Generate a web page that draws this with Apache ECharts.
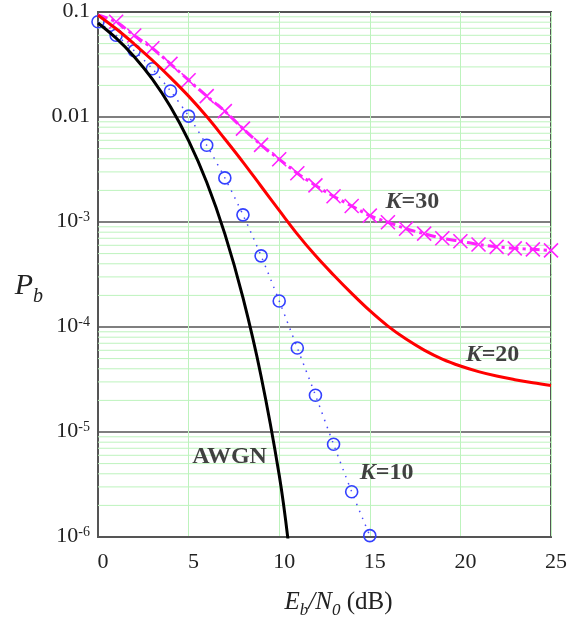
<!DOCTYPE html>
<html><head><meta charset="utf-8">
<script src="https://cdn.jsdelivr.net/npm/echarts@6/dist/echarts.min.js"></script>
<style>html,body{margin:0;padding:0;background:#fff}#c{width:570px;height:624px}</style>
</head><body><div id="c"></div>
<script>
// ---- data ----
const yTickValues = [1e-6, 1e-5, 1e-4, 1e-3, 1e-2, 1e-1];
const yTickBase   = ['10', '10', '10', '10', '0.01', '0.1'];
const yTickExp    = ['-6', '-5', '-4', '-3', '', ''];
const xTickLabels = ['0', '5', '10', '15', '20', '25'];
const xMin = 0, xMax = 25;

const awgnX = [0, 1, 2, 3, 4, 5, 6, 7, 8, 9, 10, 10.5];
const awgnY = [0.0786, 0.0563, 0.0375, 0.0229, 0.0125, 0.00595, 0.00239, 7.7e-4, 1.9e-4, 3.4e-5, 3.9e-6, 9e-7];

const k10X = [0, 1, 2, 3, 4, 5, 6, 7, 8, 9, 10, 11, 12, 13, 14, 15];
const k10Y = [0.0807, 0.0601, 0.0427, 0.0288, 0.0177, 0.0102, 0.00538, 0.00263, 0.00117, 4.76e-4, 1.77e-4, 6.31e-5, 2.24e-5, 7.64e-6, 2.70e-6, 1.03e-6];

const k20X = [0, 1, 2, 3, 4, 5, 6, 7, 8, 9, 10, 11, 12, 13, 14, 15, 16, 17, 18, 19, 20, 21, 22, 23, 24, 25];
const k20Y = [0.0933, 0.0692, 0.0495, 0.0347, 0.0237, 0.0158, 0.0101, 0.00617, 0.00372, 0.00219, 0.00129, 7.67e-4, 4.79e-4, 3.13e-4, 2.09e-4, 1.43e-4, 1.02e-4, 7.67e-5, 6.03e-5, 4.95e-5, 4.25e-5, 3.76e-5, 3.41e-5, 3.15e-5, 2.94e-5, 2.77e-5];

const k30X = [0, 1, 2, 3, 4, 5, 6, 7, 8, 9, 10, 11, 12, 13, 14, 15, 16, 17, 18, 19, 20, 21, 22, 23, 24, 25];
const k30Y = [0.0937, 0.0807, 0.0597, 0.0452, 0.0321, 0.0224, 0.0158, 0.01136, 0.00776, 0.00542, 0.00396, 0.00291, 0.00223, 0.00176, 0.00142, 0.00115, 9.94e-4, 8.62e-4, 7.74e-4, 7.0e-4, 6.56e-4, 6.11e-4, 5.80e-4, 5.61e-4, 5.49e-4, 5.36e-4];

const annotX    = [17.35, 21.77, 15.93, 7.26];
const annotY    = [1.55e-3, 5.43e-5, 4.13e-6, 5.82e-6];
const annotText = ['K=30', 'K=20', 'K=10', 'AWGN'];

// ---- build ----
const zip = (xs, ys) => xs.map((x, i) => [x, ys[i]]);
const minorLines = [];
for (let e = -6; e <= -2; e++) for (let m = 2; m <= 9; m++) minorLines.push([xMin, m * Math.pow(10, e)]);

const k30Data = zip(k30X, k30Y).map((d, i) => i === 0 ? { value: d, symbol: 'none' } : d);

const serif = 'Liberation Serif';
const chart = echarts.init(document.getElementById('c'), null, { renderer: 'canvas' });
chart.setOption({
  animation: false,
  backgroundColor: '#fff',
  grid: { left: 98, right: 14, top: 7, bottom: 81, show: true, borderColor: '#555', borderWidth: 2, containLabel: false },
  xAxis: {
    type: 'value', min: xMin, max: xMax, interval: 5,
    axisLine: { show: true, lineStyle: { color: '#555', width: 2 } },
    axisTick: { show: false },
    splitLine: { show: true, lineStyle: { color: '#bdf3bd', width: 1 } },
    axisLabel: {
      margin: 14, padding: [0, 0, 0, 10], fontFamily: serif, fontSize: 22, color: '#222',
      formatter: v => { const i = Math.round(v / 5); return xTickLabels[i] ?? ''; }
    },
    name: '{i|E}{s|b}{i|/N}{s|0}{n| (dB)}',
    nameLocation: 'middle', nameGap: 53,
    nameTextStyle: {
      padding: [0, 0, 0, 28],
      rich: {
        i: { fontFamily: serif, fontStyle: 'italic', fontSize: 25, color: '#222', verticalAlign: 'top', lineHeight: 26 },
        s: { fontFamily: serif, fontStyle: 'italic', fontSize: 17, color: '#222', verticalAlign: 'top', lineHeight: 17, padding: [12, 0, 0, 0] },
        n: { fontFamily: serif, fontSize: 25, color: '#222', verticalAlign: 'top', lineHeight: 26 }
      }
    }
  },
  yAxis: {
    type: 'log', logBase: 10, min: 1e-6, max: 0.1,
    axisLine: { show: true, lineStyle: { color: '#555', width: 2 } },
    axisTick: { show: false },
    minorTick: { show: false },
    splitLine: { show: true, lineStyle: { color: '#555', width: 1.5 } },
    axisLabel: {
      margin: 8, verticalAlignMaxLabel: 'top',
      formatter: v => {
        const i = yTickValues.findIndex(t => Math.abs(Math.log10(t) - Math.log10(v)) < 0.01);
        if (i < 0) return '';
        return yTickExp[i] ? '{b|' + yTickBase[i] + '}{s|' + yTickExp[i] + '}' : '{b|' + yTickBase[i] + '}';
      },
      rich: {
        b: { fontFamily: serif, fontSize: 22, color: '#222', verticalAlign: 'top', lineHeight: 24 },
        s: { fontFamily: serif, fontSize: 14, color: '#222', verticalAlign: 'top', lineHeight: 14 }
      }
    },
    name: '{p|P}{s|b}',
    nameLocation: 'middle', nameRotate: 0, nameGap: 55,
    nameTextStyle: {
      padding: [24, 0, 0, 0],
      rich: {
        p: { fontFamily: serif, fontStyle: 'italic', fontSize: 30, color: '#222', verticalAlign: 'top', lineHeight: 30 },
        s: { fontFamily: serif, fontStyle: 'italic', fontSize: 20, color: '#222', verticalAlign: 'top', lineHeight: 20, padding: [15, 0, 0, 0] }
      }
    }
  },
  series: [
    {
      type: 'custom', data: minorLines, silent: true, z: 1, clip: true,
      encode: { x: 0, y: 1 },
      renderItem: (params, api) => {
        const v = api.value(1);
        const p1 = api.coord([xMin, v]);
        const p2 = api.coord([xMax, v]);
        return { type: 'line', shape: { x1: p1[0], y1: p1[1], x2: p2[0], y2: p2[1] },
          style: { stroke: '#bdf3bd', lineWidth: 1 } };
      }
    },
    {
      name: 'AWGN', type: 'line', data: zip(awgnX, awgnY), smooth: 0.4, showSymbol: false, z: 5,
      lineStyle: { color: '#000', width: 3 }, itemStyle: { color: '#000' }
    },
    {
      name: 'K=20', type: 'line', data: zip(k20X, k20Y), smooth: 0.4, showSymbol: false, z: 5,
      lineStyle: { color: '#ff0000', width: 3 }, itemStyle: { color: '#ff0000' }
    },
    {
      name: 'K=10', type: 'line', data: zip(k10X, k10Y), smooth: 0.3, z: 4,
      symbol: 'circle', symbolSize: 12, showAllSymbol: true,
      lineStyle: { color: '#4a4aff', width: 1.5, type: [1.5, 6] },
      itemStyle: { color: 'rgba(0,0,0,0)', borderColor: '#3340ff', borderWidth: 1.6 }
    },
    {
      name: 'K=30', type: 'line', data: k30Data, smooth: 0.3, z: 4,
      symbol: 'path://M0,0L10,10M10,0L0,10', symbolSize: 14, showAllSymbol: true,
      lineStyle: { color: '#ff22ff', width: 3, type: [10, 4, 3, 4] },
      itemStyle: { color: 'rgba(0,0,0,0)', borderColor: '#ff22ff', borderWidth: 1.6 }
    },
    {
      type: 'scatter', data: zip(annotX, annotY), symbolSize: 1, silent: true, z: 6,
      itemStyle: { color: 'rgba(0,0,0,0)' },
      label: {
        show: true, position: 'inside',
        formatter: p => {
          const t = annotText[p.dataIndex];
          return t.startsWith('K') ? '{k|K}{t|' + t.slice(1) + '}' : '{t|' + t + '}';
        },
        rich: {
          k: { fontFamily: serif, fontWeight: 'bold', fontStyle: 'italic', fontSize: 24, color: '#111' },
          t: { fontFamily: serif, fontWeight: 'bold', fontSize: 24, color: '#111' }
        }
      }
    }
  ]
});
</script></body></html>
